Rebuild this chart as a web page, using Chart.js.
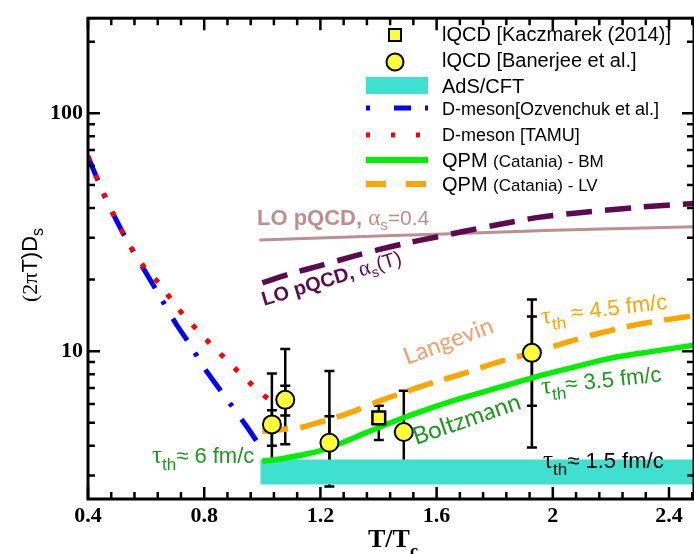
<!DOCTYPE html>
<html>
<head>
<meta charset="utf-8">
<script src="https://cdn.jsdelivr.net/npm/chart.js@4.4.1/dist/chart.umd.min.js"></script>
<style>
  html, body { margin: 0; padding: 0; background: #fff; }
  #wrap { width: 694px; height: 554px; }
</style>
</head>
<body>
<div id="wrap"><canvas id="canvas" width="694" height="554"></canvas></div>
<script>
const ctx = document.getElementById("canvas");

// axis ticks
const xMajor = [0.4, 0.8, 1.2, 1.6, 2.0, 2.4];
const xMajorLabels = ["0.4", "0.8", "1.2", "1.6", "2", "2.4"];
const yTicks = [3, 4, 5, 6, 7, 8, 9, 10, 20, 30, 40, 50, 60, 70, 80, 90, 100, 200];
const yLabelled = [10, 100];

// D-meson [Ozvenchuk et al.]
const ozvT = [0.4, 0.45, 0.5, 0.55, 0.6, 0.65, 0.7, 0.75, 0.8, 0.85, 0.9, 0.95, 1.0];
const ozvD = [65.8, 47, 35, 27, 21.3, 16.8, 13.2, 10.7, 8.5, 7.0, 5.77, 4.75, 3.85];

// D-meson [TAMU]
const tamuT = [0.4, 0.45, 0.5, 0.55, 0.6, 0.65, 0.7, 0.75, 0.8, 0.85, 0.9, 0.95, 1.0, 1.03];
const tamuD = [65.8, 47, 35, 27, 22, 19, 15.6, 13.3, 11.4, 9.9, 8.6, 7.5, 6.6, 6.15];

// QPM (Catania) - BM
const bmT = [1.0, 1.05, 1.13, 1.2, 1.27, 1.35, 1.45, 1.55, 1.65, 1.75, 1.85, 1.95, 2.05, 2.2, 2.35, 2.486];
const bmD = [3.45, 3.5, 3.65, 3.82, 4.1, 4.5, 5.05, 5.6, 6.15, 6.68, 7.24, 7.85, 8.43, 9.35, 10.0, 10.6];

// QPM (Catania) - LV
const lvT = [1.0, 1.085, 1.14, 1.22, 1.3, 1.4, 1.5, 1.6, 1.7, 1.8, 1.93, 2.05, 2.15, 2.3, 2.486];
const lvD = [4.6, 4.71, 4.8, 5.12, 5.5, 6.15, 6.8, 7.45, 8.1, 8.9, 9.85, 10.9, 11.8, 13.0, 14.1];

// LO pQCD, alpha_s = 0.4
const lo04T = [0.99, 1.3, 1.6, 2.0, 2.486];
const lo04D = [29.3, 30.2, 31.0, 32.2, 33.3];

// LO pQCD, alpha_s(T)
const loAsT = [1.0, 1.1, 1.2, 1.3, 1.4, 1.5, 1.6, 1.7, 1.8, 1.95, 2.1, 2.3, 2.486];
const loAsD = [19.4, 21.2, 22.9, 24.8, 26.7, 28.5, 30.2, 32.0, 33.8, 36.5, 38.3, 40.3, 41.8];

// AdS/CFT band
const adsT = [0.993, 2.486];
const adsLow = [2.75, 2.75];
const adsHigh = [3.5, 3.5];

// lQCD [Banerjee et al.]
const banT = [1.033, 1.079, 1.231, 1.487, 1.928];
const banD = [4.92, 6.24, 4.12, 4.57, 9.84];
const banLo = [3.0, 4.06, 2.7, 3.0, 3.93];
const banHi = [8.05, 10.2, 8.26, 6.82, 16.5];
const banInLo = [4.0, 5.36, 3.2, null, 5.89];
const banInHi = [5.64, 7.16, 5.33, null, 13.97];

// lQCD [Kaczmarek (2014)]
const kacT = [1.401];
const kacD = [5.24];
const kacLo = [4.23];
const kacHi = [5.89];

const pts = (xs, ys) => xs.map((x, i) => ({ x: x, y: ys[i] }));

const YELLOW = "#ffff3a";
const TURQ = "#40e0d0";
const GREEN = "#00ee00";
const ORANGE = "#ffa500";
const PURPLE = "#5c0b4f";
const ROSY = "#bc8f8f";
const TXTGREEN = "#1f961f";

function errorBars(chart, xs, lo, hi, cap) {
  const c = chart.ctx, sx = chart.scales.x, sy = chart.scales.y;
  c.save();
  c.strokeStyle = "#000";
  c.lineWidth = 2.5;
  xs.forEach((x, i) => {
    if (lo[i] == null) return;
    const px = sx.getPixelForValue(x);
    const p1 = sy.getPixelForValue(lo[i]);
    const p2 = sy.getPixelForValue(hi[i]);
    c.beginPath();
    c.moveTo(px, p1); c.lineTo(px, p2);
    c.moveTo(px - cap, p1); c.lineTo(px + cap, p1);
    c.moveTo(px - cap, p2); c.lineTo(px + cap, p2);
    c.stroke();
  });
  c.restore();
}

function rich(c, x, y, angle, parts) {
  c.save();
  c.translate(x, y);
  c.rotate(angle * Math.PI / 180);
  c.textAlign = "left";
  c.textBaseline = "alphabetic";
  let cx = 0;
  parts.forEach((p) => {
    c.font = p.f;
    c.fillStyle = p.c;
    c.fillText(p.t, cx, p.dy || 0);
    cx += c.measureText(p.t).width + (p.sp || 0);
  });
  c.restore();
}

const SANS = "'Liberation Sans', Arial, sans-serif";
const SERIF = "'Liberation Serif', 'Times New Roman', serif";

const decorations = {
  id: "decorations",
  beforeDatasetsDraw(chart) {
    errorBars(chart, banT, banLo, banHi, 5);
    errorBars(chart, banT, banInLo, banInHi, 5);
    errorBars(chart, kacT, kacLo, kacHi, 5);
  },
  afterDraw(chart) {
    const c = chart.ctx;
    const { left, right, top, bottom } = chart.chartArea;
    const sx = chart.scales.x, sy = chart.scales.y;
    c.save();
    // frame
    c.strokeStyle = "#000";
    c.lineWidth = 3;
    c.strokeRect(left, top, right - left, bottom - top);
    // ticks
    c.lineWidth = 2.5;
    c.beginPath();
    for (let v = 0.4; v < 2.49; v += 0.08) {
      const isMajor = xMajor.some((m) => Math.abs(m - v) < 1e-6);
      const len = isMajor ? 12 : 7;
      const px = sx.getPixelForValue(v);
      c.moveTo(px, bottom); c.lineTo(px, bottom - len);
      c.moveTo(px, top); c.lineTo(px, top + len);
    }
    yTicks.forEach((v) => {
      const len = yLabelled.includes(v) ? 12 : 7;
      const py = sy.getPixelForValue(v);
      c.moveTo(left, py); c.lineTo(left + len, py);
      c.moveTo(right, py); c.lineTo(right - len, py);
    });
    c.stroke();
    c.restore();

    // legend
    c.save();
    const lx0 = 366, lx1 = 428, tx = 442;
    c.lineWidth = 2;
    c.strokeStyle = "#000";
    c.fillStyle = YELLOW;
    c.fillRect(389, 29, 12, 12);
    c.strokeRect(389, 29, 12, 12);
    c.beginPath();
    c.arc(395, 62, 8.5, 0, Math.PI * 2);
    c.fill(); c.stroke();
    c.fillStyle = TURQ;
    c.fillRect(lx0, 77, lx1 - lx0, 17);
    const legLine = (y, color, dash, w) => {
      c.beginPath();
      c.strokeStyle = color;
      c.lineWidth = w;
      c.setLineDash(dash);
      c.moveTo(lx0, y); c.lineTo(lx1, y);
      c.stroke();
    };
    legLine(108, "#0000ff", [4, 24, 17, 14], 5);
    legLine(135, "#ff0000", [4, 21], 5);
    legLine(160, GREEN, [], 6);
    legLine(184, ORANGE, [20, 20], 6);
    c.setLineDash([]);
    c.restore();
    const F20 = "20px " + SANS, F18 = "18px " + SANS, F17 = "17px " + SANS;
    rich(c, tx, 41, 0, [{ t: "lQCD [Kaczmarek (2014)]", f: F20, c: "#000" }]);
    rich(c, tx, 67, 0, [{ t: "lQCD [Banerjee et al.]", f: F20, c: "#000" }]);
    rich(c, tx, 93, 0, [{ t: "AdS/CFT", f: F20, c: "#000" }]);
    rich(c, tx, 115, 0, [{ t: "D-meson[Ozvenchuk et al.]", f: F18, c: "#000" }]);
    rich(c, tx, 141, 0, [{ t: "D-meson [TAMU]", f: F18, c: "#000" }]);
    rich(c, tx, 167, 0, [{ t: "QPM ", f: F20, c: "#000" }, { t: "(Catania) - BM", f: F17, c: "#000" }]);
    rich(c, tx, 191, 0, [{ t: "QPM ", f: F20, c: "#000" }, { t: "(Catania) - LV", f: F17, c: "#000" }]);

    // annotations
    rich(c, 257, 225, 0, [
      { t: "LO pQCD, ", f: "bold 22px " + SANS, c: ROSY },
      { t: "α", f: "23px " + SERIF, c: ROSY },
      { t: "s", f: "15px " + SANS, c: ROSY, dy: 5 },
      { t: "=0.4", f: "21px " + SANS, c: ROSY },
    ]);
    rich(c, 264, 306, -17, [
      { t: "LO pQCD, ", f: "bold 20px " + SANS, c: PURPLE },
      { t: "α", f: "22px " + SERIF, c: PURPLE },
      { t: "s", f: "14px " + SANS, c: PURPLE, dy: 5 },
      { t: "(T)", f: "20px " + SANS, c: PURPLE },
    ]);
    rich(c, 407, 365, -20.5, [{ t: "Langevin", f: "24px Lato, " + SANS, c: "#f59e6c" }]);
    rich(c, 416, 445, -19, [{ t: "Boltzmann", f: "24px Lato, " + SANS, c: TXTGREEN }]);
    const tau = (x, y, ang, col, rest) => rich(c, x, y, ang, [
      { t: "τ", f: "25px " + SERIF, c: col },
      { t: "th", f: "17px " + SANS, c: col, dy: 7 },
      { t: rest, f: "22px " + SANS, c: col },
    ]);
    tau(542, 324, -7, ORANGE, " ≈ 4.5 fm/c");
    tau(542, 394, -6, TXTGREEN, "≈ 3.5 fm/c");
    tau(152, 463, 0, TXTGREEN, "≈ 6 fm/c");
    tau(543, 468, 0, "#000", "≈ 1.5 fm/c");

    // axis titles
    rich(c, 37, 302, -90, [
      { t: "(2", f: "22px " + SERIF, c: "#000" },
      { t: "π", f: "22px " + SERIF, c: "#000" },
      { t: "T)D", f: "22px " + SANS, c: "#000" },
      { t: "s", f: "16px " + SANS, c: "#000", dy: 6 },
    ]);
    rich(c, 368, 547, 0, [
      { t: "T/T", f: "bold 26px " + SERIF, c: "#000" },
      { t: "c", f: "bold 18px " + SERIF, c: "#000", dy: 10 },
    ]);
  },
};

const lineDs = (label, xs, ys, color, width, dash, order) => ({
  label: label,
  data: pts(xs, ys),
  showLine: true,
  borderColor: color,
  borderWidth: width,
  borderDash: dash,
  pointRadius: 0,
  fill: false,
  tension: 0.3,
  order: order,
});

const config = {
  type: "scatter",
  data: {
    datasets: [
      {
        label: "AdS/CFT low",
        data: pts(adsT, adsLow),
        showLine: true,
        borderWidth: 0,
        pointRadius: 0,
        fill: false,
        order: 20,
      },
      {
        label: "AdS/CFT",
        data: pts(adsT, adsHigh),
        showLine: true,
        borderWidth: 0,
        pointRadius: 0,
        backgroundColor: TURQ,
        fill: "-1",
        order: 19,
      },
      lineDs("LO pQCD, as=0.4", lo04T, lo04D, ROSY, 3, [], 10),
      lineDs("LO pQCD, as(T)", loAsT, loAsD, PURPLE, 5.5, [26, 13], 9),
      lineDs("D-meson[Ozvenchuk et al.]", ozvT, ozvD, "#0000ff", 5, [26, 15, 4, 16], 8),
      lineDs("D-meson [TAMU]", tamuT, tamuD, "#ff0000", 5, [5, 15], 7),
      lineDs("QPM (Catania) - LV", lvT, lvD, ORANGE, 5.5, [26, 12], 6),
      lineDs("QPM (Catania) - BM", bmT, bmD, GREEN, 5.5, [], 5),
      {
        label: "lQCD [Kaczmarek (2014)]",
        data: pts(kacT, kacD),
        pointStyle: "rect",
        pointRadius: 9,
        backgroundColor: YELLOW,
        borderColor: "#000",
        borderWidth: 2.5,
        order: 2,
      },
      {
        label: "lQCD [Banerjee et al.]",
        data: pts(banT, banD),
        pointStyle: "circle",
        pointRadius: 9,
        backgroundColor: YELLOW,
        borderColor: "#000",
        borderWidth: 2,
        order: 1,
      },
    ],
  },
  plugins: [decorations],
  options: {
    responsive: false,
    animation: false,
    events: [],
    layout: { padding: { top: 11, right: 0, left: 0, bottom: 0 }, autoPadding: false },
    plugins: { legend: { display: false }, tooltip: { enabled: false } },
    scales: {
      x: {
        type: "linear",
        min: 0.4,
        max: 2.486,
        afterFit(s) { s.height = 55; },
        afterBuildTicks(s) { s.ticks = xMajor.map((v) => ({ value: v })); },
        grid: { display: false, drawTicks: false },
        border: { display: false },
        ticks: {
          autoSkip: false,
          maxRotation: 0,
          padding: 4,
          color: "#000",
          font: { family: "Liberation Serif", size: 22, weight: "bold" },
          callback: (v, i) => xMajorLabels[i],
        },
      },
      y: {
        type: "logarithmic",
        min: 2.39,
        max: 251,
        afterFit(s) { s.width = 88; },
        afterBuildTicks(s) { s.ticks = yTicks.map((v) => ({ value: v })); },
        grid: { display: false, drawTicks: false },
        border: { display: false },
        ticks: {
          autoSkip: false,
          padding: 5,
          color: "#000",
          font: { family: "Liberation Serif", size: 22, weight: "bold" },
          callback: (v) => (yLabelled.includes(v) ? String(v) : ""),
        },
      },
    },
  },
};

new Chart(ctx, config);
</script>
</body>
</html>
